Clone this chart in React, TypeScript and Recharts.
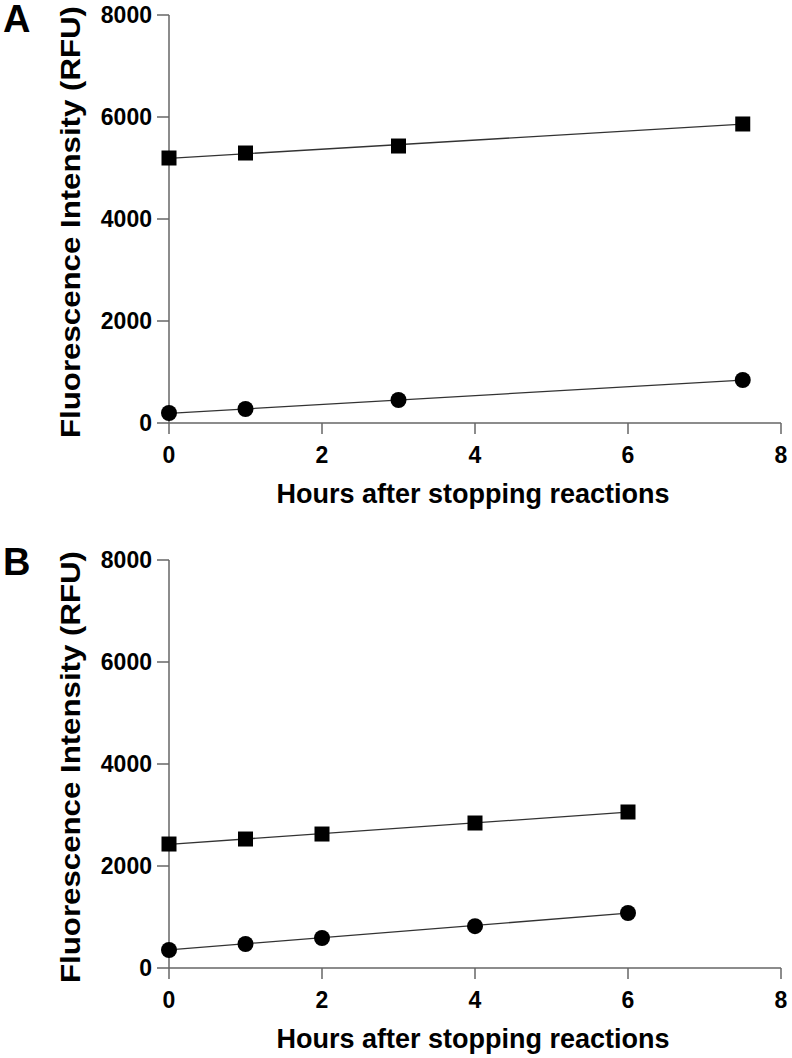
import React from 'react';
import { ComposedChart, XAxis, YAxis, Line, Scatter, Label } from 'recharts';

const xTicks = [0, 2, 4, 6, 8];
const yTicks = [0, 2000, 4000, 6000, 8000];

// panel A
const hoursA = [0, 1, 3, 7.5];
const squaresA = [5196, 5294, 5431, 5863];
const circlesA = [196, 275, 451, 843];
const fitHoursA = [0, 7.5];
const fitSquaresA = [5190, 5860];
const fitCirclesA = [190, 840];

// panel B
const hoursB = [0, 1, 2, 4, 6];
const squaresB = [2431, 2529, 2627, 2843, 3059];
const circlesB = [353, 470, 588, 820, 1078];
const fitHoursB = [0, 6];
const fitSquaresB = [2425, 3055];
const fitCirclesB = [355, 1075];

const FONT = '"Liberation Sans", Arial, Helvetica, sans-serif';
const AXIS = { stroke: '#666', strokeWidth: 1.5 };

const pts = (xs: number[], ys: number[]) => xs.map((x, i) => ({ x, y: ys[i] }));

const SquareDot = (props: any) => {
  const { cx, cy } = props;
  return <rect x={cx - 7.5} y={cy - 7.5} width={15} height={15} fill="#000" />;
};

const CircleDot = (props: any) => {
  const { cx, cy } = props;
  return <circle cx={cx} cy={cy} r={8} fill="#000" />;
};

const YTitle = (props: any) => {
  const { viewBox } = props;
  const cy = viewBox.y + viewBox.height / 2 + 3;
  return (
    <text
      x={71}
      y={cy}
      transform={`rotate(-90, 71, ${cy})`}
      textAnchor="middle"
      dominantBaseline="central"
      fontFamily={FONT}
      fontWeight="bold"
      fontSize={27}
      textLength={432}
      lengthAdjust="spacingAndGlyphs"
      fill="#000"
    >
      Fluorescence Intensity (RFU)
    </text>
  );
};

interface PanelProps {
  letter: string;
  letterTop: number;
  height: number;
  marginTop: number;
  xAxisHeight: number;
  titleOffset: number;
  hours: number[];
  squares: number[];
  circles: number[];
  fitHours: number[];
  fitSquares: number[];
  fitCircles: number[];
}

const Panel: React.FC<PanelProps> = ({
  letter, letterTop, height, marginTop, xAxisHeight, titleOffset,
  hours, squares, circles, fitHours, fitSquares, fitCircles,
}) => {
  const tickStyle = { fill: '#000', fontSize: 23, fontWeight: 'bold', fontFamily: FONT };
  return (
    <div style={{ position: 'relative', width: 792, height }}>
      <div
        style={{
          position: 'absolute', left: 3, top: letterTop,
          fontFamily: FONT, fontWeight: 'bold', fontSize: 38, lineHeight: '38px',
        }}
      >
        {letter}
      </div>
      <ComposedChart
        width={792}
        height={height}
        margin={{ top: marginTop, right: 11, bottom: 0, left: 89 }}
      >
        <XAxis
          type="number"
          dataKey="x"
          domain={[0, 8]}
          ticks={xTicks}
          height={xAxisHeight}
          axisLine={AXIS}
          tickLine={AXIS}
          tickSize={11}
          tickMargin={13}
          tick={tickStyle}
        >
          <Label
            value="Hours after stopping reactions"
            position="insideBottom"
            offset={titleOffset}
            dx={-2}
            style={{ fill: '#000', fontSize: 27, fontWeight: 'bold', fontFamily: FONT }}
          />
        </XAxis>
        <YAxis
          type="number"
          dataKey="y"
          domain={[0, 8000]}
          ticks={yTicks}
          width={80}
          axisLine={AXIS}
          tickLine={AXIS}
          tickSize={12}
          tickMargin={5}
          tick={tickStyle}
        >
          <Label content={<YTitle />} />
        </YAxis>
        <Line data={pts(fitHours, fitSquares)} dataKey="y" stroke="#333" strokeWidth={1.3} dot={false} isAnimationActive={false} />
        <Line data={pts(fitHours, fitCircles)} dataKey="y" stroke="#333" strokeWidth={1.3} dot={false} isAnimationActive={false} />
        <Scatter data={pts(hours, squares)} shape={<SquareDot />} isAnimationActive={false} />
        <Scatter data={pts(hours, circles)} shape={<CircleDot />} isAnimationActive={false} />
      </ComposedChart>
    </div>
  );
};

export default function App() {
  return (
    <div style={{ position: 'absolute', left: 0, top: 0, width: 792, height: 1058, background: '#fff' }}>
      <Panel
        letter="A" letterTop={0} height={530} marginTop={15} xAxisHeight={107} titleOffset={27}
        hours={hoursA} squares={squaresA} circles={circlesA}
        fitHours={fitHoursA} fitSquares={fitSquaresA} fitCircles={fitCirclesA}
      />
      <Panel
        letter="B" letterTop={13} height={528} marginTop={30} xAxisHeight={90} titleOffset={10}
        hours={hoursB} squares={squaresB} circles={circlesB}
        fitHours={fitHoursB} fitSquares={fitSquaresB} fitCircles={fitCirclesB}
      />
    </div>
  );
}
